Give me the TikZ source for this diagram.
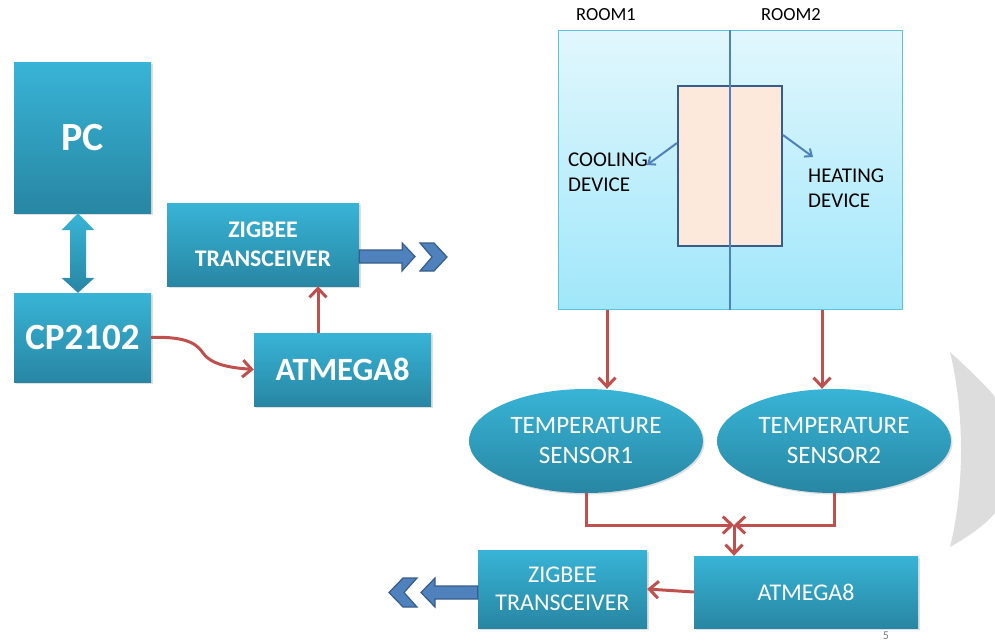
\documentclass[tikz,border=0pt]{standalone}
\usepackage{fontspec}
\setmainfont{Carlito}
\usetikzlibrary{arrows.meta,shapes.geometric,shadows,calc}
\definecolor{boxtop}{RGB}{56,180,214}
\definecolor{boxbot}{RGB}{40,134,163}
\definecolor{redl}{RGB}{192,80,77}
\definecolor{blueA}{RGB}{79,129,189}
\definecolor{blueD}{RGB}{56,93,138}
\definecolor{roomtop}{RGB}{226,247,253}
\definecolor{roombot}{RGB}{160,231,250}
\definecolor{roomedge}{RGB}{91,194,224}
\definecolor{peach}{RGB}{252,233,219}
\definecolor{grayc}{RGB}{221,221,221}
\tikzset{
  blk/.style={rectangle, inner sep=0pt, top color=boxtop, bottom color=boxbot,
    text=white, align=center,
    drop shadow={opacity=0.25, shadow xshift=1.5pt, shadow yshift=-1.5pt}},
  sens/.style={ellipse, inner sep=0pt, top color=boxtop, bottom color=boxbot,
    text=white, align=center, minimum width=234pt, minimum height=104pt,
    font=\fontsize{25}{30}\selectfont,
    drop shadow={opacity=0.25, shadow xshift=1.5pt, shadow yshift=-1.5pt}},
  redarrow/.style={draw=redl, line width=3pt, -{Straight Barb[length=9pt,width=17pt]}},
  redline/.style={draw=redl, line width=3pt},
  bluearr/.style={draw=blueA, line width=2pt, -{Straight Barb[length=6pt,width=10pt]}},
  blockarr/.style={fill=blueA, draw=blueD, line width=1.2pt, line join=miter},
  lbl/.style={text=black, align=left, inner sep=0pt}
}
\begin{document}
\begin{tikzpicture}[x=1pt,y=-1pt]
\useasboundingbox (0,0) rectangle (995,641);
% background crescent
\fill[grayc] (950,352) .. controls (972,372) and (990,390) .. (995,397) -- (995,513)
  .. controls (985,525) and (968,537) .. (950,547)
  .. controls (958,515) and (961,480) .. (961,450)
  .. controls (961,420) and (958,385) .. (950,352) -- cycle;

% left part
\node[blk, minimum width=137pt, minimum height=151pt, font=\fontsize{40}{40}\selectfont\bfseries] (pc) at (82.5,137.5) {PC};
\node[blk, minimum width=137pt, minimum height=89pt, font=\fontsize{37}{37}\selectfont\bfseries] (cp) at (82.5,337.5) {CP2102};
\node[blk, minimum width=192pt, minimum height=83pt, font=\fontsize{23.8}{28.5}\selectfont\bfseries] (zig1) at (263,244.5) {ZIGBEE\\TRANSCEIVER};
\node[blk, minimum width=177pt, minimum height=73pt, font=\fontsize{32.5}{32}\selectfont\bfseries] (atm1) at (342.5,369.5) {ATMEGA8};

% double block arrow PC <-> CP2102
\coordinate (x78) at (78,0);
\coordinate (da1) at (pc.south -| x78);
\coordinate (da2) at (cp.north -| x78);
\shade[top color=boxtop, bottom color=boxbot]
  (da1) -- ++(16.5,17) -- ++(-8.5,0) |- ($(da2)+(8,-15)$) -- ++(8.5,0) -- (da2)
  -- ++(-16.5,-15) -- ++(8.5,0) |- ($(da1)+(-8,17)$) -- ++(-8.5,0) -- cycle;

% CP2102 -> ATMEGA8
\draw[redarrow] (cp.east) .. controls (190,336) and (198,346) .. (203,353)
  .. controls (212,366) and (235,368) .. (atm1.west);
% ATMEGA8 -> ZIGBEE
\coordinate (x318) at (318,0);
\draw[redarrow] (atm1.north -| x318) -- (zig1.south -| x318);

% outgoing block arrow (top)
\coordinate (oa) at (zig1.east |- 0,256.5);
\filldraw[blockarr] (oa) ++(0,-6.5) -- ++(43,0) -- ++(0,-7) -- (415,256.5) -- (402,271) -- ++(0,-8) -- ($(oa)+(0,6.5)$) -- cycle;
\filldraw[blockarr] (420,243) -- (434,243) -- (447,257) -- (434,271) -- (420,271) -- (432,257) -- cycle;

% room
\node[rectangle, minimum width=344pt, minimum height=279pt, inner sep=0pt,
  top color=roomtop, bottom color=roombot, draw=roomedge, line width=1pt] (room) at (730,169.5) {};
\node[rectangle, minimum width=104pt, minimum height=160pt, inner sep=0pt,
  fill=peach, draw=blueD, line width=2pt] (inner) at (730,166) {};
\draw[draw=blueA, line width=2.5pt] (room.north) -- (room.south);
\node[lbl, font=\fontsize{18.5}{18}\selectfont] (r1) at (606,15) {ROOM1};
\node[lbl, font=\fontsize{18.5}{18}\selectfont] (r2) at (791,15) {ROOM2};
\node[lbl, anchor=west, font=\fontsize{21}{25}\selectfont] (cool) at (568,172.5) {COOLING\\DEVICE};
\node[lbl, anchor=west, font=\fontsize{21}{25}\selectfont] (heat) at (808,188.5) {HEATING\\DEVICE};
\coordinate (cy) at (0,143);
\coordinate (hy) at (0,135);
\draw[bluearr] (inner.west |- cy) -- (647,165);
\draw[bluearr] (inner.east |- hy) -- (813,157);

% sensors
\node[sens] (s1) at (586,441) {TEMPERATURE\\SENSOR1};
\node[sens] (s2) at (834,441) {TEMPERATURE\\SENSOR2};
\coordinate (a1) at (607,0);
\coordinate (a2) at (822,0);
\draw[redarrow] (room.south -| a1) -- (s1.north -| a1);
\draw[redarrow] (room.south -| a2) -- (s2.north -| a2);

% bottom row
\node[blk, minimum width=224pt, minimum height=72pt, font=\fontsize{24}{24}\selectfont] (atm2) at (806,592) {ATMEGA8};
\node[blk, minimum width=169pt, minimum height=78pt, font=\fontsize{24}{27.5}\selectfont] (zig2) at (562.5,589) {ZIGBEE\\TRANSCEIVER};

\coordinate (j) at (734,525);
\draw[redarrow] (s1.south) |- (j);
\draw[redarrow] (s2.south) |- (j);
\draw[redarrow] (j) -- (j |- atm2.north);
\draw[redarrow] (atm2.west) -- (zig2.east);

% outgoing block arrow (bottom)
\coordinate (ob) at (zig2.west |- 0,592.5);
\filldraw[blockarr] (ob) ++(0,-6.5) -- (435,586) -- (435,578) -- (421,592.5) -- (435,607) -- (435,599) -- ($(ob)+(0,6.5)$) -- cycle;
\filldraw[blockarr] (403,578) -- (417,578) -- (404,592.5) -- (417,607) -- (403,607) -- (389,592.5) -- cycle;

% page number
\node[text=gray, font=\fontsize{12}{12}\selectfont, inner sep=0pt] (pg) at (886,636) {5};
\end{tikzpicture}
\end{document}
